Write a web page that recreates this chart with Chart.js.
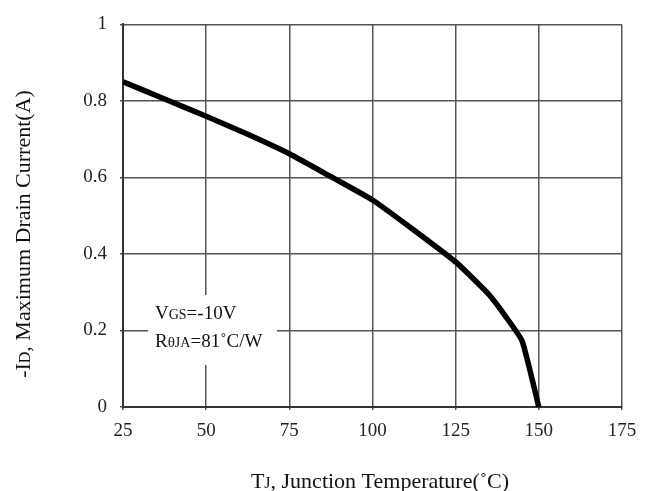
<!DOCTYPE html>
<html>
<head>
<meta charset="utf-8">
<script src="https://cdn.jsdelivr.net/npm/chart.js@4/dist/chart.umd.min.js"></script>
<style>
  html, body { margin: 0; padding: 0; background: #fff; }
  #wrap { width: 650px; height: 491px; }
</style>
</head>
<body>
<div id="wrap"><canvas id="chart"></canvas></div>
<script>
// junction temperature (C) vs max drain current (A)
const temps    = [25, 37.5, 50, 62.5, 75, 87.5, 100, 112.5, 125, 130, 135, 140, 145, 150];
const currents = [0.85, 0.805, 0.76, 0.713, 0.662, 0.602, 0.541, 0.462, 0.379, 0.338, 0.294, 0.237, 0.172, 0];
const xTicks = [25, 50, 75, 100, 125, 150, 175];
const yTicks = [0, 0.2, 0.4, 0.6, 0.8, 1];

const serif = '"Liberation Serif", "Times New Roman", serif';

// draws text runs with mixed font sizes (for the small-caps subscripts)
function runWidth(ctx, parts) {
    let w = 0;
    parts.forEach(p => { ctx.font = p[1] + 'px ' + serif; w += ctx.measureText(p[0]).width; });
    return w;
}
function drawRuns(ctx, parts, x, y) {
    parts.forEach(p => {
        ctx.font = p[1] + 'px ' + serif;
        ctx.fillText(p[0], x, y);
        x += ctx.measureText(p[0]).width;
    });
}

const labelsPlugin = {
    id: 'labels',
    afterDraw(chart) {
        const ctx = chart.ctx;
        ctx.save();
        ctx.fillStyle = '#111';
        ctx.textBaseline = 'alphabetic';
        ctx.textAlign = 'left';

        // y axis title, rotated
        const yTitle = [['-I', 22], ['D', 16], [', Maximum Drain Current(A)', 22]];
        ctx.save();
        ctx.translate(30, 234);
        ctx.rotate(-Math.PI / 2);
        drawRuns(ctx, yTitle, -runWidth(ctx, yTitle) / 2, 0);
        ctx.restore();

        // x axis title
        const xTitle = [['T', 22], ['J', 16], [', Junction Temperature(\u02DAC)', 22]];
        drawRuns(ctx, xTitle, 380 - runWidth(ctx, xTitle) / 2, 488);

        // conditions box
        ctx.fillStyle = '#fff';
        ctx.fillRect(148, 295, 129, 70);
        ctx.fillStyle = '#111';
        drawRuns(ctx, [['V', 19], ['GS', 14], ['=-10V', 19]], 155, 319);
        drawRuns(ctx, [['R', 19], ['\u03B8', 15], ['JA', 14], ['=81\u02DAC/W', 19]], 155, 347);
        ctx.restore();
    }
};

new Chart(document.getElementById('chart'), {
    type: 'line',
    data: {
        datasets: [{
            data: temps.map((t, i) => ({ x: t, y: currents[i] })),
            borderColor: '#000',
            borderWidth: 5.5,
            pointRadius: 0,
            tension: 0.15,
            fill: false
        }]
    },
    options: {
        responsive: true,
        maintainAspectRatio: false,
        animation: false,
        layout: { padding: { left: 0, top: 19, right: 28, bottom: 0 } },
        plugins: { legend: { display: false }, tooltip: { enabled: false } },
        scales: {
            x: {
                type: 'linear',
                min: 25,
                max: 175,
                afterBuildTicks: s => { s.ticks = xTicks.map(v => ({ value: v })); },
                afterFit: s => { s.height = 84; },
                grid: { color: '#555', lineWidth: 1.5, tickLength: 3 },
                border: { color: '#333', width: 2 },
                ticks: { color: '#222', padding: 10, font: { family: serif, size: 19 } }
            },
            y: {
                min: 0,
                max: 1,
                afterBuildTicks: s => { s.ticks = yTicks.map(v => ({ value: v })); },
                afterFit: s => { s.width = 123; },
                grid: { color: '#555', lineWidth: 1.5, tickLength: 3 },
                border: { color: '#333', width: 2 },
                ticks: {
                    color: '#222',
                    padding: 13,
                    font: { family: serif, size: 19 },
                    callback: v => String(Math.round(v * 10) / 10)
                }
            }
        }
    },
    plugins: [labelsPlugin]
});
</script>
</body>
</html>
